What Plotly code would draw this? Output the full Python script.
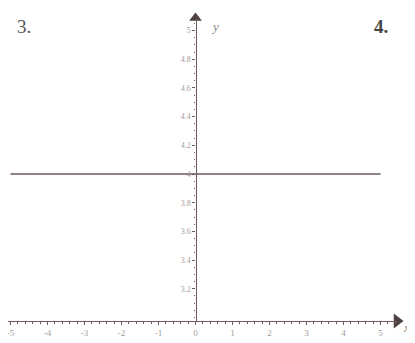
import plotly.graph_objects as go

# Data
line_x = [-5, 5]
line_y = [4, 4]
x_ticks = [-5, -4, -3, -2, -1, 0, 1, 2, 3, 4, 5]
x_tick_labels = ["-5", "-4", "-3", "-2", "-1", "0", "1", "2", "3", "4", "5"]
y_ticks = [3.2, 3.4, 3.6, 3.8, 4.0, 4.2, 4.4, 4.6, 4.8, 5.0]
y_tick_labels = ["3.2", "3.4", "3.6", "3.8", "4", "4.2", "4.4", "4.6", "4.8", "5"]

# the page body has an 8px default margin, so the figure is laid out in
# window pixels minus that offset
OFF = 8
W, H = 415 - OFF, 343 - OFF
x0_px, px_per_x = 195.5 - OFF, 37.0
y4_px, px_per_y = 174.0 - OFF, 143.5
left_px, right_px = 8 - OFF, 397 - OFF
bottom_px, top_px = 321 - OFF, 18 - OFF

x_range = [(left_px - x0_px) / px_per_x, (right_px - x0_px) / px_per_x]
y_range = [4 - (bottom_px - y4_px) / px_per_y, 4 + (y4_px - top_px) / px_per_y]
x_dom = [left_px / W, right_px / W]
y_dom = [(H - bottom_px) / H, (H - top_px) / H]
yaxis_pos = x_dom[0] + (0 - x_range[0]) / (x_range[1] - x_range[0]) * (x_dom[1] - x_dom[0])

axis_col = "#6e5c5c"
lab_col = "#a09c9c"
font_fam = "Liberation Serif"

fig = go.Figure()
fig.add_trace(go.Scatter(x=line_x, y=line_y, mode="lines",
                         line=dict(color="#6a5858", width=1.6),
                         hoverinfo="skip", showlegend=False))
# arrow heads at the ends of the axes
fig.add_trace(go.Scatter(x=[0], y=[y_range[1]], mode="markers",
                         marker=dict(symbol="triangle-up", size=11, color="#4e4040"),
                         cliponaxis=False, showlegend=False, hoverinfo="skip"))
fig.add_trace(go.Scatter(x=[x_range[1]], y=[y_range[0]], mode="markers",
                         marker=dict(symbol="triangle-right", size=13, color="#4e4040"),
                         cliponaxis=False, showlegend=False, hoverinfo="skip"))

fig.update_layout(
    width=W, height=H, autosize=False,
    margin=dict(l=0, r=0, t=0, b=0),
    paper_bgcolor="white", plot_bgcolor="white",
    font=dict(family=font_fam, size=8, color=lab_col),
    xaxis=dict(range=x_range, domain=x_dom, anchor="y",
               showgrid=False, zeroline=False, showline=True,
               linecolor=axis_col, linewidth=1.4,
               tickvals=x_ticks, ticktext=x_tick_labels,
               ticks="outside", ticklen=3, tickcolor=axis_col, tickwidth=1,
               ticklabeloverflow="allow",
               minor=dict(dtick=0.2, tick0=0, ticks="outside", ticklen=2, tickcolor=axis_col),
               tickfont=dict(size=9, color=lab_col, family=font_fam),
               automargin=False, fixedrange=True),
    yaxis=dict(range=y_range, domain=y_dom, anchor="free", position=yaxis_pos,
               showgrid=False, zeroline=False, showline=True,
               linecolor=axis_col, linewidth=1.4,
               tickvals=y_ticks, ticktext=y_tick_labels,
               ticks="outside", ticklen=3, tickcolor=axis_col, tickwidth=1,
               minor=dict(dtick=0.05, tick0=3, ticks="outside", ticklen=1.5, tickcolor=axis_col),
               tickfont=dict(size=8, color=lab_col, family=font_fam),
               automargin=False, fixedrange=True),
    annotations=[
        dict(text="3.", x=(15 - OFF) / W, y=1 - (14 - OFF) / H, xref="paper", yref="paper",
             showarrow=False, font=dict(size=19, color="#555555", family=font_fam)),
        dict(text="<b>4.</b>", x=(390 - OFF) / W, y=1 - (14 - OFF) / H, xref="paper", yref="paper",
             showarrow=False, font=dict(size=19, color="#444444", family=font_fam)),
        dict(text="<i>y</i>", x=(215 - OFF) / W, y=1 - (17 - OFF) / H, xref="paper", yref="paper",
             showarrow=False, font=dict(size=13, color="#8a8686", family=font_fam)),
        dict(text="<i>x</i>", x=(406 - OFF) / W, y=1 - (327 - OFF) / H, xref="paper", yref="paper",
             xanchor="center", yanchor="middle",
             showarrow=False, font=dict(size=13, color="#8a8686", family=font_fam)),
    ],
)

fig.write_html("out.html")
